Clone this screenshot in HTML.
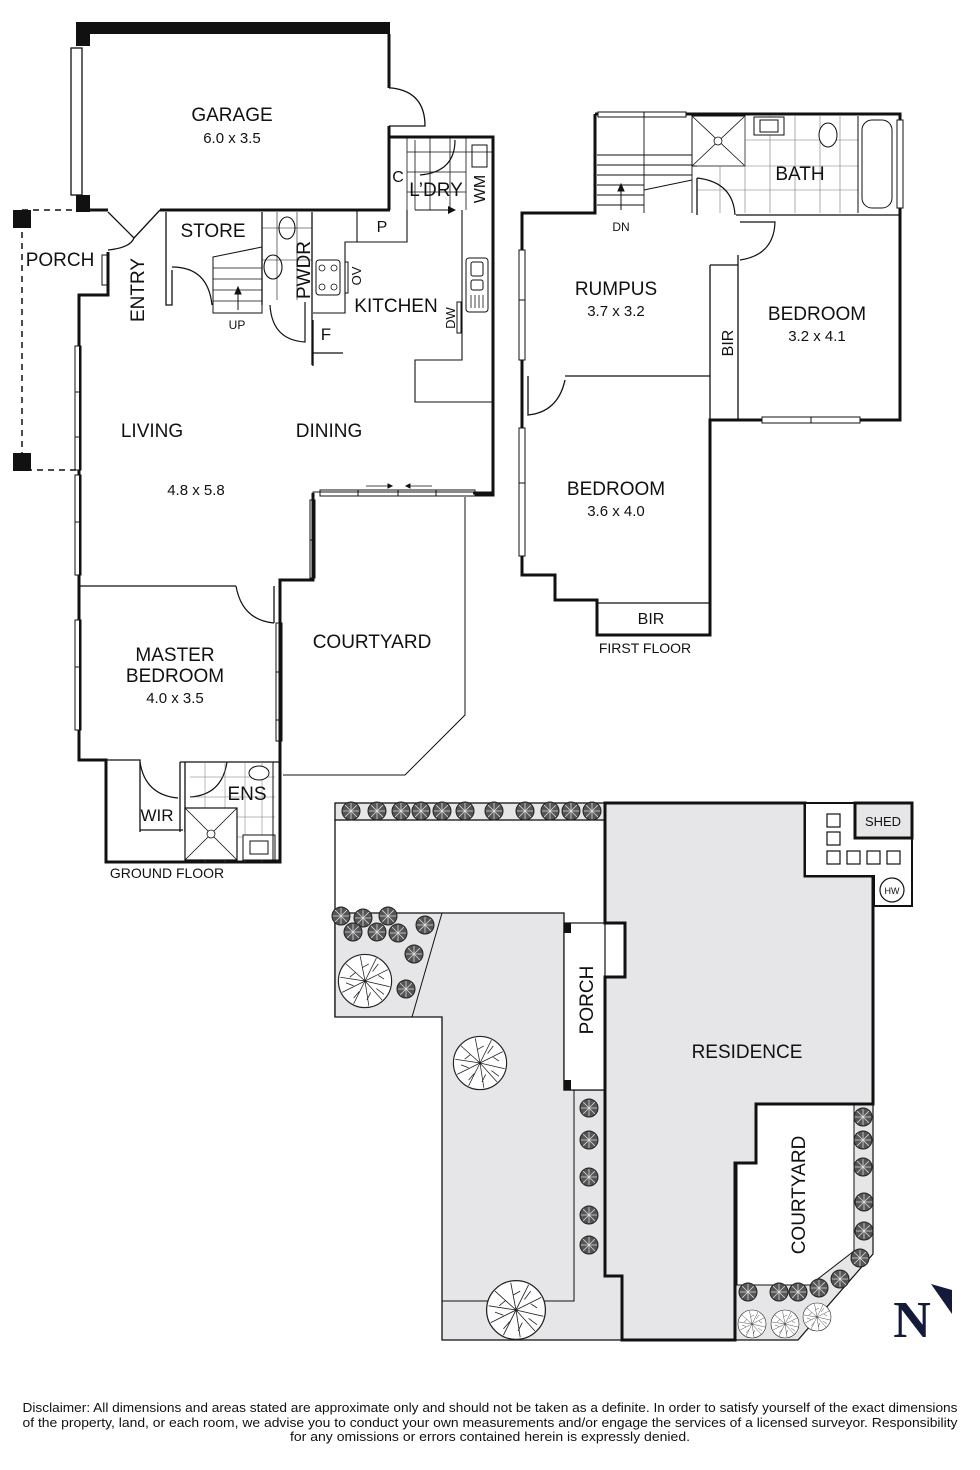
<!DOCTYPE html>
<html><head><meta charset="utf-8"><style>
html,body{margin:0;padding:0;background:#fff;width:980px;height:1470px;overflow:hidden}
svg{display:block}
text{font-family:"Liberation Sans",Arial,sans-serif;fill:#111}
</style></head><body>
<svg width="980" height="1470" viewBox="0 0 980 1470" xmlns="http://www.w3.org/2000/svg">
<defs>
<g id="sh"><circle r="9" fill="#555" stroke="#222" stroke-width="1"/><path d="M-8 0H8M0-8V8M-6-6L6 6M-6 6L6-6" stroke="#ddd" stroke-width="0.8"/></g>
<g id="tr"><circle r="28" fill="#fff" stroke="#222" stroke-width="1.2"/><path d="M0 0L-20-18M0 0L-5-26M0 0L12-24M0 0L24-12M0 0L26 6M0 0L18 20M0 0L4 26M0 0L-12 24M0 0L-24 12M0 0L-26-4M-10-9L-16-4M-3-14L4-18M8-10L14-18M14-6L20-2M12 8L20 14M6 12L2 20M-6 11L-12 18M-12 5L-20 2" stroke="#222" stroke-width="0.8" fill="none"/></g>
</defs>

<!-- ============ GROUND FLOOR ============ -->
<g fill="none" stroke="#111">
<path d="M22 210H78M22 210V470H78" stroke-width="1.5" stroke-dasharray="6 5"/>
<rect x="13" y="210" width="18" height="18" fill="#111" stroke="none"/>
<rect x="13" y="453" width="18" height="18" fill="#111" stroke="none"/>
<path d="M76 28H390" stroke-width="12"/>
<rect x="76" y="22" width="14" height="24" fill="#111" stroke="none"/>
<rect x="76" y="195" width="14" height="17" fill="#111" stroke="none"/>
<rect x="71" y="48" width="11" height="147" stroke-width="1.3"/>
<path d="M389 34V88M389 126V210" stroke-width="3"/>
<path d="M389 88H392Q425 92 425 126H389" stroke-width="1.3"/>
<path d="M78 210H108M160 210H390" stroke-width="3"/>
<path d="M108 212L134 238M160 210L134 238M108 250Q130 248 134 238" stroke-width="1.3"/>
<path d="M108 252V295H79V760H106V862H280V760" stroke-width="3"/>
<rect x="102" y="255" width="6" height="30" stroke-width="1"/>
<path d="M78 346V470M78 475V575M78 620V730" stroke="#fff" stroke-width="2"/>
<rect x="75" y="346" width="6" height="124" stroke-width="1"/>
<rect x="75" y="475" width="6" height="100" stroke-width="1"/>
<rect x="75" y="620" width="6" height="110" stroke-width="1"/>
<path d="M75 392H81M75 437H81M75 522H81M75 667H81" stroke-width="1"/>
<path d="M390 137H493V493H473" stroke-width="3"/>
<path d="M493 490V495H475" stroke-width="3"/>
<path d="M407 137V210M415 140V210M466 137V210M407 152H493M407 172H466M407 192H466M430 137V210M450 137V210" stroke-width="0.8"/>
<path d="M455 140Q455 172 420 175" stroke-width="1.2"/>
<rect x="472" y="145" width="15" height="22" stroke-width="1"/>
<path d="M415 210H455" stroke-width="1"/><path d="M448 206L456 210L448 214Z" fill="#111" stroke="none"/>
<path d="M462 210V360H415V402H493" stroke-width="1.1"/>
<rect x="466" y="258" width="22" height="54" rx="3" stroke-width="1"/>
<rect x="471" y="262" width="12" height="14" rx="2" stroke-width="1"/>
<rect x="471" y="280" width="12" height="10" rx="2" stroke-width="1"/>
<path d="M471 295V308M475 295V308M479 295V308M483 295V308" stroke-width="0.8"/>
<rect x="457" y="302" width="4" height="31" stroke-width="1"/>
<path d="M166 212V305H172V270" stroke-width="1.3"/>
<path d="M172 267Q208 267 212 305" stroke-width="1.2"/>
<path d="M213 257L262 247V313H213Z" stroke-width="1"/>
<path d="M213 268H262M213 279H262M213 290H262M213 301H262" stroke-width="0.8"/>
<path d="M238 310V290" stroke-width="1"/><path d="M235 294L238 287L241 294Z" fill="#111"/>
<path d="M262 212V305M312 212V365" stroke-width="1.3"/>
<path d="M262 228H312M262 260H312M277 212V300M297 212V300" stroke-width="0.6"/>
<ellipse cx="287" cy="228" rx="8" ry="11" stroke-width="1.1"/>
<ellipse cx="273" cy="267" rx="9" ry="12" stroke-width="1.1"/>
<path d="M270 305Q272 340 305 342V302" stroke-width="1.2"/>
<path d="M313 313H345V242H357V210M357 242H407V210" stroke-width="1.1"/>
<rect x="316" y="260" width="24" height="35" rx="3" stroke-width="1"/>
<circle cx="322" cy="268" r="3" stroke-width="0.8"/><circle cx="334" cy="268" r="3" stroke-width="0.8"/>
<circle cx="322" cy="287" r="3" stroke-width="0.8"/><circle cx="334" cy="287" r="3" stroke-width="0.8"/>
<rect x="345" y="262" width="3" height="31" stroke-width="1"/>
<path d="M313 320V366M313 353H343" stroke-width="1.3"/>
<path d="M313 493V492H475" stroke-width="1"/>
<rect x="320" y="490" width="155" height="6" stroke-width="1"/>
<path d="M358 490V496M398 490V496M436 490V496" stroke-width="1"/>
<path d="M366 486H390M408 486H432" stroke-width="0.8"/>
<path d="M388 484L392 486L388 488ZM410 484L406 486L410 488Z" fill="#111"/>
<path d="M313 493V580H280V760" stroke-width="3"/>
<rect x="310" y="500" width="5" height="78" stroke-width="1"/>
<path d="M310 540H315" stroke-width="1"/>
<rect x="276" y="623" width="6" height="118" stroke-width="1"/>
<path d="M276 672H282M276 720H282" stroke-width="1"/>
<path d="M79 586H236M274 586V623" stroke-width="1.3"/>
<path d="M236 586Q242 620 274 623" stroke-width="1.2"/>
<path d="M465 497V715L405 775H283" stroke-width="1"/>
<path d="M106 760H140V830H183M140 760V832M180 762V832M185 762V832M180 762H185M185 762H227M227 762H280" stroke-width="1.3"/>
<path d="M140 762Q145 795 178 798" stroke-width="1.2"/>
<path d="M190 797Q222 795 227 762" stroke-width="1.2"/>
<path d="M190 777H275M190 797H275M205 762V862M225 762V862M245 762V862M262 762V862M190 817H275M190 837H275" stroke-width="0.5" stroke="#777"/>
<rect x="185" y="808" width="52" height="52" fill="#fff" stroke-width="1.2"/>
<path d="M185 808L237 860M237 808L185 860" stroke-width="0.8"/>
<circle cx="211" cy="834" r="4" fill="#fff" stroke-width="0.8"/>
<rect x="243" y="835" width="32" height="25" fill="#fff" stroke-width="1"/>
<rect x="250" y="841" width="18" height="13" stroke-width="1"/>
<ellipse cx="259" cy="773" rx="10" ry="7" fill="#fff" stroke-width="1"/>
<rect x="273" y="762" width="6" height="98" stroke-width="1"/>
</g>
<g font-size="19" text-anchor="middle">
<text x="232" y="121">GARAGE</text>
<text x="232" y="143" font-size="15">6.0 x 3.5</text>
<text x="213" y="237">STORE</text>
<text x="60" y="266">PORCH</text>
<text x="144" y="290" transform="rotate(-90 144 290)">ENTRY</text>
<text x="310" y="270" transform="rotate(-90 310 270)">PWDR</text>
<text x="361" y="276" font-size="13" transform="rotate(-90 361 276)">OV</text>
<text x="396" y="312">KITCHEN</text>
<text x="455" y="318" font-size="13" transform="rotate(-90 455 318)">DW</text>
<text x="326" y="340" font-size="17">F</text>
<text x="382" y="232" font-size="16">P</text>
<text x="398" y="182" font-size="16">C</text>
<text x="436" y="196">L’DRY</text>
<text x="485" y="189" font-size="16" transform="rotate(-90 485 189)">WM</text>
<text x="237" y="329" font-size="12">UP</text>
<text x="152" y="437">LIVING</text>
<text x="329" y="437">DINING</text>
<text x="196" y="495" font-size="15">4.8 x 5.8</text>
<text x="175" y="661">MASTER</text>
<text x="175" y="682">BEDROOM</text>
<text x="175" y="703" font-size="15">4.0 x 3.5</text>
<text x="372" y="648">COURTYARD</text>
<text x="247" y="800">ENS</text>
<text x="157" y="821" font-size="17">WIR</text>
<text x="167" y="878" font-size="14">GROUND FLOOR</text>
</g>

<!-- ============ FIRST FLOOR ============ -->
<g fill="none" stroke="#111">
<path d="M595 114H900V420H710V635H597V600H555V575H522V213H595V114" stroke-width="3"/>
<rect x="598" y="112" width="88" height="5" fill="#fff" stroke-width="1"/>
<path d="M644 112V117" stroke-width="1"/>
<rect x="897" y="120" width="6" height="88" fill="#fff" stroke-width="1"/>
<rect x="519" y="250" width="6" height="110" fill="#fff" stroke-width="1"/>
<path d="M519 300H525" stroke-width="1"/>
<rect x="519" y="428" width="6" height="128" fill="#fff" stroke-width="1"/>
<path d="M519 483H525" stroke-width="1"/>
<rect x="762" y="417" width="98" height="6" fill="#fff" stroke-width="1"/>
<path d="M811 417V423" stroke-width="1"/>
<path d="M597 155H692M597 165H692M597 175H692M597 185H644M597 195H644M597 205H644M644 117V213M692 117V213M644 190L692 180" stroke-width="0.9"/>
<path d="M621 210V187" stroke-width="1"/><path d="M618 191L621 184L624 191Z" fill="#111"/>
<rect x="692" y="116" width="53" height="50" stroke-width="1"/>
<path d="M692 116L745 166M745 116L692 166" stroke-width="0.8"/>
<circle cx="718" cy="141" r="4" fill="#fff" stroke-width="0.8"/>
<path d="M745 140H858M697 166H858M697 190H858M720 166V213M745 116V213M770 116V213M795 116V213M820 116V213M840 116V213" stroke="#777" stroke-width="0.6"/>
<rect x="754" y="117" width="30" height="18" fill="#fff" stroke-width="1"/>
<rect x="760" y="120" width="18" height="12" stroke-width="1"/>
<ellipse cx="828" cy="135" rx="9" ry="12" fill="#fff" stroke-width="1"/>
<path d="M858 116V213" stroke-width="1"/>
<rect x="862" y="120" width="30" height="88" rx="10" stroke-width="1"/>
<path d="M736 215H900M697 178V215" stroke-width="1.3"/>
<path d="M697 178Q733 182 735 215" stroke-width="1.2"/>
<path d="M740 222H775Q774 255 740 260" stroke-width="1.2"/>
<path d="M710 265H738M710 265V420M738 255V420" stroke-width="1.3"/>
<path d="M565 376H710M528 376V415Q558 412 565 380" stroke-width="1.3"/>
<path d="M597 603H710" stroke-width="1.3"/>
</g>
<g font-size="19" text-anchor="middle">
<text x="621" y="231" font-size="12">DN</text>
<text x="800" y="180">BATH</text>
<text x="616" y="295">RUMPUS</text>
<text x="616" y="316" font-size="15">3.7 x 3.2</text>
<text x="817" y="320">BEDROOM</text>
<text x="817" y="341" font-size="15">3.2 x 4.1</text>
<text x="733" y="343" font-size="16" transform="rotate(-90 733 343)">BIR</text>
<text x="616" y="495">BEDROOM</text>
<text x="616" y="516" font-size="15">3.6 x 4.0</text>
<text x="651" y="624" font-size="16">BIR</text>
<text x="645" y="653" font-size="14">FIRST FLOOR</text>
</g>

<!-- ============ SITE PLAN ============ -->
<g stroke="#111">
<rect x="335" y="803" width="270" height="17" fill="#e6e6e8" stroke-width="1.3"/>
<path d="M335 820V1017" fill="none" stroke-width="1.3"/>
<path d="M335 913H564V1090H605V1276H622V1340H442V1017H335Z" fill="#e6e6e8" stroke-width="1.3"/>
<path d="M442 913L412 1017M574 1090V1301H442" fill="none" stroke-width="1"/>
<rect x="564" y="923" width="41" height="167" fill="#fff" stroke-width="1.2"/>
<rect x="564" y="923" width="7" height="10" fill="#111" stroke="none"/>
<rect x="564" y="1080" width="7" height="10" fill="#111" stroke="none"/>
<path d="M571 923H605" stroke-dasharray="5 4" stroke-width="1"/>
<path d="M756 1104H873V1254L798 1340H735V1163H756Z" fill="#e6e6e8" stroke-width="1.2"/>
<path d="M756 1104H854V1251L810 1285H737V1163H756Z" fill="#fff" stroke-width="1"/>
<path d="M605 803H805V876H873V1104H756V1163H735V1340H622V1276H605V977H625V923H605Z" fill="#e6e6e8" stroke-width="3"/>
<path d="M805 803H912V906H874V876H805Z" fill="#fff" stroke-width="2"/>
<rect x="855" y="803" width="57" height="35" fill="#e6e6e8" stroke-width="3"/>
<g fill="#fff" stroke-width="1.2">
<rect x="827" y="814" width="13" height="13"/><rect x="827" y="832" width="13" height="13"/>
<rect x="827" y="851" width="13" height="13"/><rect x="847" y="851" width="13" height="13"/>
<rect x="867" y="851" width="13" height="13"/><rect x="887" y="851" width="13" height="13"/>
<circle cx="892" cy="890" r="12"/>
</g>
</g>
<g>
<use href="#sh" x="351" y="811"/><use href="#sh" x="377" y="811"/><use href="#sh" x="401" y="811"/>
<use href="#sh" x="421" y="811"/><use href="#sh" x="442" y="811"/><use href="#sh" x="465" y="811"/>
<use href="#sh" x="494" y="811"/><use href="#sh" x="525" y="811"/><use href="#sh" x="550" y="811"/>
<use href="#sh" x="571" y="811"/><use href="#sh" x="592" y="811"/>
<use href="#sh" x="341" y="916"/><use href="#sh" x="363" y="918"/><use href="#sh" x="388" y="916"/>
<use href="#sh" x="353" y="932"/><use href="#sh" x="377" y="932"/><use href="#sh" x="398" y="933"/>
<use href="#sh" x="425" y="925"/><use href="#sh" x="414" y="954"/><use href="#sh" x="406" y="989"/>
<use href="#tr" x="365" y="981" transform="translate(365 981) scale(0.95) translate(-365 -981)"/>
<use href="#tr" x="480" y="1063" transform="translate(480 1063) scale(0.95) translate(-480 -1063)"/>
<use href="#tr" x="516" y="1310" transform="translate(516 1310) scale(1.05) translate(-516 -1310)"/>
<use href="#sh" x="589" y="1108"/><use href="#sh" x="589" y="1140"/><use href="#sh" x="589" y="1177"/>
<use href="#sh" x="589" y="1215"/><use href="#sh" x="589" y="1245"/>
<use href="#sh" x="863" y="1117"/><use href="#sh" x="863" y="1140"/><use href="#sh" x="863" y="1167"/>
<use href="#sh" x="864" y="1202"/><use href="#sh" x="864" y="1231"/><use href="#sh" x="860" y="1258"/>
<use href="#sh" x="840" y="1279"/><use href="#sh" x="819" y="1288"/><use href="#sh" x="798" y="1292"/>
<use href="#sh" x="779" y="1292"/><use href="#sh" x="748" y="1292"/>
<use href="#tr" x="752" y="1324" transform="translate(752 1324) scale(0.5) translate(-752 -1324)"/>
<use href="#tr" x="785" y="1324" transform="translate(785 1324) scale(0.5) translate(-785 -1324)"/>
<use href="#tr" x="817" y="1317" transform="translate(817 1317) scale(0.5) translate(-817 -1317)"/>
</g>
<g font-size="19" text-anchor="middle">
<text x="593" y="1000" transform="rotate(-90 593 1000)">PORCH</text>
<text x="747" y="1058">RESIDENCE</text>
<text x="805" y="1195" transform="rotate(-90 805 1195)">COURTYARD</text>
<text x="883" y="826" font-size="13">SHED</text>
<text x="892" y="894" font-size="9">HW</text>
</g>
<text x="912" y="1337" font-size="52" font-weight="bold" text-anchor="middle" style="font-family:'Liberation Serif',serif;fill:#141b3a">N</text>
<path d="M931 1284L952 1290L952 1314Z" fill="#141b3a"/>
<g font-size="13" text-anchor="middle">
<text x="490" y="1412" textLength="935" lengthAdjust="spacingAndGlyphs">Disclaimer: All dimensions and areas stated are approximate only and should not be taken as a definite. In order to satisfy yourself of the exact dimensions</text>
<text x="490" y="1427" textLength="935" lengthAdjust="spacingAndGlyphs">of the property, land, or each room, we advise you to conduct your own measurements and/or engage the services of a licensed surveyor. Responsibility</text>
<text x="490" y="1441" textLength="400" lengthAdjust="spacingAndGlyphs">for any omissions or errors contained herein is expressly denied.</text>
</g>
</svg>
</body></html>
